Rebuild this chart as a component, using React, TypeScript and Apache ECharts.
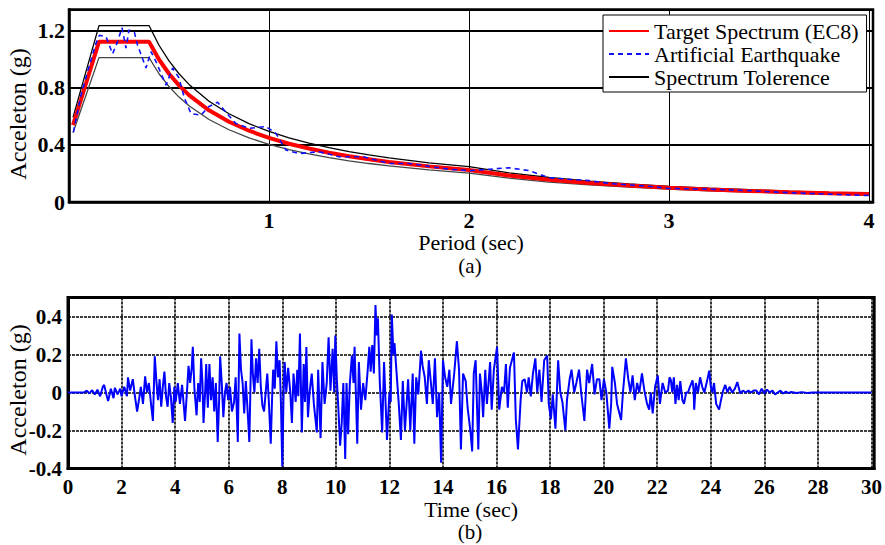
import React, { useEffect, useRef } from "react";
import * as echarts from "echarts";

const FONT = "Liberation Serif";

// ---- (a) Response spectra ----
const targetPeriods = [0.02, 0.15, 0.4, 0.45, 0.5, 0.55, 0.6, 0.7, 0.8, 0.9, 1.0, 1.1, 1.2, 1.3, 1.4, 1.5, 1.6, 1.8, 2.0, 2.2, 2.4, 2.6, 2.8, 3.0, 3.2, 3.4, 3.6, 3.8, 4.0];
const targetSa = [0.54, 1.125, 1.125, 1.0, 0.9, 0.818, 0.75, 0.643, 0.563, 0.5, 0.45, 0.409, 0.375, 0.346, 0.321, 0.3, 0.281, 0.25, 0.225, 0.186, 0.156, 0.133, 0.115, 0.1, 0.088, 0.078, 0.069, 0.062, 0.056];
const upperSa = [0.594, 1.238, 1.238, 1.1, 0.99, 0.9, 0.825, 0.707, 0.619, 0.55, 0.495, 0.45, 0.413, 0.381, 0.353, 0.33, 0.309, 0.275, 0.248, 0.205, 0.172, 0.146, 0.127, 0.11, 0.097, 0.086, 0.076, 0.068, 0.062];
const lowerSa = [0.486, 1.013, 1.013, 0.9, 0.81, 0.736, 0.675, 0.579, 0.507, 0.45, 0.405, 0.368, 0.338, 0.311, 0.289, 0.27, 0.253, 0.225, 0.203, 0.167, 0.14, 0.12, 0.104, 0.09, 0.079, 0.07, 0.062, 0.056, 0.05];

const artPeriods = [0.022, 0.06, 0.093, 0.135, 0.152, 0.185, 0.218, 0.243, 0.265, 0.285, 0.3, 0.327, 0.343, 0.385, 0.41, 0.435, 0.485, 0.518, 0.55, 0.577, 0.61, 0.66, 0.7, 0.743, 0.79, 0.835, 0.9, 0.985, 1.035, 1.085, 1.15, 1.25, 1.35, 1.47, 1.6, 1.7, 1.8, 1.9, 2.0, 2.1, 2.2, 2.3, 2.4, 2.5, 2.6, 2.7, 2.8, 2.9, 3.0, 3.2, 3.4, 3.6, 3.8, 4.0];
const artSa = [0.49, 0.75, 0.915, 1.114, 1.17, 1.16, 1.04, 1.125, 1.223, 1.08, 1.207, 1.19, 1.1, 0.94, 1.055, 0.985, 0.82, 0.94, 0.87, 0.73, 0.62, 0.61, 0.67, 0.7, 0.62, 0.55, 0.517, 0.53, 0.48, 0.365, 0.34, 0.353, 0.318, 0.318, 0.27, 0.27, 0.25, 0.23, 0.22, 0.23, 0.24, 0.22, 0.17, 0.16, 0.15, 0.13, 0.12, 0.11, 0.095, 0.09, 0.08, 0.065, 0.055, 0.045];

// ---- (b) Artificial accelerogram: [time (s), acceleration (g)] ----
const accelHistory: [number, number][] = [
  [0, 0], [0.6, 0], [0.7, 0.01], [0.8, -0.005], [0.9, 0.012], [1.0, -0.01], [1.1, 0.015], [1.2, -0.02], [1.3, 0.03], [1.35, 0.04], [1.45, -0.02], [1.5, -0.045], [1.6, 0.02], [1.7, -0.03], [1.75, 0.025], [1.85, -0.01], [1.95, 0.02], [2.0, -0.02],
  [2.1, 0.03], [2.2, -0.02], [2.24, 0.08], [2.32, 0.01], [2.42, 0.07], [2.5, -0.02], [2.58, -0.1], [2.66, -0.03], [2.72, 0.03], [2.8, -0.06], [2.88, 0.085], [2.95, 0.0], [3.02, 0.05], [3.1, -0.06], [3.17, -0.15], [3.24, 0.19], [3.3, 0.06], [3.36, -0.04], [3.42, 0.07], [3.48, -0.075], [3.54, 0.03], [3.6, 0.11], [3.66, -0.02], [3.72, -0.075], [3.78, 0.05], [3.84, -0.02], [3.91, -0.16], [3.97, 0.03], [4.02, -0.05],
  [4.1, 0.05], [4.18, -0.06], [4.26, 0.04], [4.37, -0.15], [4.44, 0.0], [4.5, 0.14], [4.56, 0.05], [4.62, 0.13], [4.66, 0.24], [4.72, 0.02], [4.8, -0.12], [4.86, 0.05], [4.92, -0.05], [4.97, 0.18], [5.02, 0.05], [5.06, -0.16], [5.12, 0.0], [5.16, 0.15], [5.22, -0.08], [5.28, 0.15], [5.34, -0.04], [5.4, 0.08], [5.46, -0.1], [5.52, 0.05], [5.59, -0.26], [5.64, -0.05], [5.68, 0.19], [5.74, 0.05], [5.8, -0.13], [5.86, 0.0], [5.92, 0.05], [5.98, -0.04],
  [6.05, 0.03], [6.12, -0.1], [6.2, -0.05], [6.26, 0.08], [6.34, -0.26], [6.4, 0.31], [6.46, 0.12], [6.52, 0.05], [6.58, -0.11], [6.64, 0.06], [6.7, -0.08], [6.77, -0.26], [6.85, 0.28], [6.9, 0.1], [6.96, 0.0], [7.02, 0.18], [7.08, 0.05], [7.14, 0.23], [7.2, 0.03], [7.26, -0.07], [7.32, -0.1], [7.38, 0.0], [7.44, 0.1], [7.5, -0.05], [7.57, -0.27], [7.62, -0.03], [7.66, 0.12], [7.72, 0.02], [7.78, 0.27], [7.84, 0.08], [7.9, 0.17], [7.95, -0.05], [8.0, -0.39],
  [8.05, 0.0], [8.09, 0.16], [8.15, 0.0], [8.22, 0.13], [8.3, 0.0], [8.36, -0.16], [8.42, 0.1], [8.5, -0.05], [8.56, 0.12], [8.6, -0.02], [8.66, 0.31], [8.73, -0.21], [8.8, 0.15], [8.85, -0.05], [8.9, 0.24], [8.96, -0.13], [9.02, 0.0], [9.1, 0.1], [9.18, -0.06], [9.29, -0.21], [9.34, 0.12], [9.43, -0.24], [9.5, 0.16], [9.58, -0.06], [9.66, 0.05], [9.73, 0.29], [9.8, 0.01], [9.88, 0.23], [9.94, 0.0], [9.98, 0.3],
  [10.04, 0.06], [10.1, -0.1], [10.16, -0.28], [10.22, -0.16], [10.28, 0.05], [10.35, -0.35], [10.4, 0.05], [10.46, -0.22], [10.52, 0.04], [10.6, 0.195], [10.66, 0.05], [10.7, 0.24], [10.8, -0.27], [10.86, 0.16], [10.94, -0.09], [11.02, 0.05], [11.1, -0.04], [11.18, 0.1], [11.25, 0.24], [11.3, 0.11], [11.36, 0.25], [11.42, 0.1], [11.48, 0.46], [11.53, 0.3], [11.57, 0.39], [11.64, 0.06], [11.73, -0.21], [11.8, 0.16], [11.91, -0.25], [12.0, 0.0],
  [12.05, -0.05], [12.09, 0.41], [12.15, 0.2], [12.19, 0.26], [12.26, 0.12], [12.35, -0.06], [12.43, -0.25], [12.5, 0.06], [12.58, -0.2], [12.7, 0.07], [12.78, -0.2], [12.87, 0.1], [12.93, -0.27], [13.0, 0.08], [13.08, -0.01], [13.18, 0.22], [13.24, 0.14], [13.32, 0.08], [13.4, -0.06], [13.47, 0.17], [13.55, 0.05], [13.62, -0.06], [13.7, 0.18], [13.78, -0.13], [13.86, 0.0], [13.93, -0.37],
  [14.0, 0.17], [14.08, 0.08], [14.16, 0.03], [14.24, 0.12], [14.3, -0.06], [14.42, 0.1], [14.52, 0.27], [14.6, 0.12], [14.67, -0.3], [14.75, 0.1], [14.85, 0.06], [14.92, -0.08],
  [15.03, -0.21], [15.09, -0.31], [15.15, 0.1], [15.22, 0.17], [15.32, -0.3], [15.38, 0.1], [15.45, 0.0], [15.5, -0.13], [15.58, 0.12], [15.64, -0.06], [15.76, 0.16], [15.82, -0.09], [15.9, 0.12],
  [16.02, 0.24], [16.1, -0.09], [16.2, 0.03], [16.28, 0.0], [16.35, 0.15], [16.42, -0.08], [16.5, 0.13], [16.65, 0.21], [16.72, -0.14], [16.8, -0.3], [16.9, -0.04], [16.96, 0.06],
  [17.05, 0.07], [17.14, 0.0], [17.2, 0.08], [17.28, -0.02], [17.36, 0.1], [17.45, 0.18], [17.52, 0.0], [17.6, 0.12], [17.68, -0.05], [17.78, 0.17], [17.89, 0.195], [17.95, -0.06],
  [18.03, -0.14], [18.1, -0.01], [18.2, -0.19], [18.3, 0.17], [18.38, 0.0], [18.46, -0.05], [18.57, -0.2], [18.63, -0.04], [18.73, 0.07], [18.8, 0.12], [18.9, 0.0], [18.98, 0.05],
  [19.08, 0.12], [19.16, 0.0], [19.28, -0.15], [19.38, 0.12], [19.46, 0.05], [19.57, 0.15], [19.66, -0.01], [19.75, 0.07], [19.84, 0.07], [19.92, -0.04],
  [20.01, 0.07], [20.1, 0.0], [20.21, -0.19], [20.28, -0.06], [20.32, 0.135], [20.42, 0.05], [20.5, -0.06], [20.65, -0.145], [20.72, 0.0], [20.83, 0.18], [20.92, 0.07],
  [21.0, 0.0], [21.08, 0.09], [21.16, -0.04], [21.25, 0.05], [21.33, 0.0], [21.43, 0.1], [21.52, 0.01], [21.62, -0.06], [21.7, -0.09], [21.76, 0.0], [21.83, -0.11], [21.92, 0.03],
  [22.02, 0.09], [22.1, -0.06], [22.2, 0.05], [22.3, 0.0], [22.4, 0.01], [22.46, 0.08], [22.51, 0.065], [22.56, 0.0], [22.62, 0.08], [22.68, -0.06], [22.74, 0.04], [22.8, -0.04], [22.86, 0.06], [22.94, -0.04],
  [23.0, -0.06], [23.08, 0.0], [23.15, 0.0], [23.22, 0.03], [23.32, 0.064], [23.36, 0.01], [23.38, -0.09], [23.44, 0.05], [23.52, 0.0], [23.6, 0.08], [23.68, 0.03], [23.76, 0.0], [23.86, 0.06], [23.94, 0.115],
  [24.0, 0.03], [24.06, 0.0], [24.12, 0.05], [24.2, -0.06], [24.31, -0.09], [24.38, -0.04], [24.46, 0.01], [24.54, 0.04], [24.62, 0.0], [24.7, 0.03], [24.8, 0.0], [24.9, 0.02], [24.99, 0.055],
  [25.1, -0.005], [25.2, 0.01], [25.3, 0.0], [25.4, 0.01], [25.5, 0.0], [25.6, 0.01], [25.7, 0.01], [25.8, -0.01], [25.9, 0.02], [26.0, -0.005], [26.1, 0.015], [26.2, 0.0], [26.3, 0.01], [26.4, -0.01], [26.5, 0.0], [26.6, 0.01], [26.7, -0.005], [26.8, 0.005], [26.9, -0.003],
  [27.0, 0.003], [27.2, -0.003], [27.4, 0.002], [27.6, -0.002], [27.8, 0.0], [30.0, 0.0],
];

const LEGEND_NAMES = ["Target Spectrum (EC8)", "Artificial Earthquake", "Spectrum Tolerence"];

const zip = (xs: number[], ys: number[]) => xs.map((x, i) => [x, ys[i]]);

function buildOption(): any {
  const topTick = { color: "#000", fontFamily: FONT, fontSize: 22, fontWeight: "bold" as const };
  const botTick = { color: "#000", fontFamily: FONT, fontSize: 21, fontWeight: "bold" as const };
  return {
    animation: false,
    backgroundColor: "#fff",
    textStyle: { fontFamily: FONT },
    grid: [
      { left: 69, top: 9.6, width: 804, height: 192.4, show: true, borderColor: "#000", borderWidth: 2.5, backgroundColor: "transparent" },
      { left: 68, top: 297.5, width: 808, height: 171, show: true, borderColor: "#000", borderWidth: 3, backgroundColor: "transparent" },
    ],
    legend: {
      data: LEGEND_NAMES,
      orient: "vertical",
      left: 603,
      top: 15,
      itemWidth: 40,
      itemHeight: 14,
      itemGap: 1,
      padding: [5, 8, 4, 5],
      borderColor: "#000",
      borderWidth: 1,
      borderRadius: 0,
      backgroundColor: "#fff",
      itemStyle: { opacity: 0 },
      textStyle: { color: "#000", fontFamily: FONT, fontSize: 22 },
    },
    xAxis: [
      {
        type: "value", gridIndex: 0, min: 0, max: 4.02, interval: 1,
        axisLine: { show: true, onZero: false, lineStyle: { color: "#000", width: 2.5 } },
        axisTick: { show: false },
        splitLine: { show: true, lineStyle: { color: "#000", width: 1 } },
        axisLabel: { ...topTick, margin: 7, formatter: (v: number) => (v > 0 && Math.abs(v - Math.round(v)) < 1e-6 ? String(Math.round(v)) : "") },
        name: "Period (sec)", nameLocation: "middle", nameGap: 23,
        nameTextStyle: { color: "#000", fontFamily: FONT, fontSize: 22 },
      },
      {
        type: "value", gridIndex: 1, min: 0, max: 30.1, interval: 2,
        axisLine: { show: true, onZero: false, lineStyle: { color: "#000", width: 3 } },
        axisTick: { show: false },
        splitLine: { show: true, lineStyle: { color: "#000", width: 1.6, type: [3, 1] } },
        axisLabel: { ...botTick, margin: 8, formatter: (v: number) => { const r = Math.round(v); return Math.abs(v - r) < 1e-6 && r % 2 === 0 ? String(r) : ""; } },
        name: "Time (sec)", nameLocation: "middle", nameGap: 26,
        nameTextStyle: { color: "#000", fontFamily: FONT, fontSize: 22 },
      },
    ],
    yAxis: [
      {
        type: "value", gridIndex: 0, min: 0, max: 1.35, interval: 0.4,
        axisLine: { show: true, lineStyle: { color: "#000", width: 2.5 } },
        axisTick: { show: false },
        splitLine: { show: true, lineStyle: { color: "#000", width: 1.8 } },
        axisLabel: { ...topTick, margin: 4, formatter: (v: number) => { const k = v / 0.4; if (Math.abs(k - Math.round(k)) > 1e-6) return ""; const r = Math.round(v * 10) / 10; return r === 0 ? "0" : r.toFixed(1); } },
      },
      {
        type: "value", gridIndex: 1, min: -0.4, max: 0.5, interval: 0.2,
        axisLine: { show: true, onZero: false, lineStyle: { color: "#000", width: 3 } },
        axisTick: { show: false },
        splitLine: { show: true, lineStyle: { color: "#000", width: 1.6, type: [3, 1] } },
        axisLabel: { ...botTick, margin: 6, formatter: (v: number) => { const r = Math.round(v * 10) / 10; if (r > 0.45) return ""; return r === 0 ? "0" : r.toFixed(1); } },
      },
    ],
    series: [
      {
        name: "Spectrum Tolerence", type: "line", xAxisIndex: 0, yAxisIndex: 0, symbol: "none",
        data: zip(targetPeriods, upperSa), lineStyle: { color: "#000", width: 1.3 }, itemStyle: { color: "#000" },
      },
      {
        name: "Spectrum Tolerence", type: "line", xAxisIndex: 0, yAxisIndex: 0, symbol: "none",
        data: zip(targetPeriods, lowerSa), lineStyle: { color: "#444", width: 1.3 }, itemStyle: { color: "#000" },
      },
      {
        name: "Target Spectrum (EC8)", type: "line", xAxisIndex: 0, yAxisIndex: 0, symbol: "none",
        data: zip(targetPeriods, targetSa), lineStyle: { color: "#ff0000", width: 4 }, itemStyle: { color: "#ff0000" },
      },
      {
        name: "Artificial Earthquake", type: "line", xAxisIndex: 0, yAxisIndex: 0, symbol: "none",
        data: zip(artPeriods, artSa), lineStyle: { color: "#1010ff", width: 1.6, type: [5, 4] }, itemStyle: { color: "#1010ff" },
      },
      {
        name: "Acceleration history", type: "line", xAxisIndex: 1, yAxisIndex: 1, symbol: "none",
        data: accelHistory, lineStyle: { color: "#0000ff", width: 2 }, itemStyle: { color: "#0000ff" },
      },
    ],
    graphic: [
      { type: "text", x: 18, y: 114, rotation: Math.PI / 2, style: { text: "Acceleton (g)", fill: "#000", fontFamily: FONT, fontSize: 24, align: "center", verticalAlign: "middle" } },
      { type: "text", x: 18, y: 390, rotation: Math.PI / 2, style: { text: "Acceleton (g)", fill: "#000", fontFamily: FONT, fontSize: 24, align: "center", verticalAlign: "middle" } },
      { type: "text", x: 470, y: 266, style: { text: "(a)", fill: "#000", fontFamily: FONT, fontSize: 21, align: "center", verticalAlign: "middle" } },
      { type: "text", x: 470, y: 532, style: { text: "(b)", fill: "#000", fontFamily: FONT, fontSize: 21, align: "center", verticalAlign: "middle" } },
    ],
  };
}

export default function App() {
  const ref = useRef<HTMLDivElement>(null);
  useEffect(() => {
    if (!ref.current) return;
    const chart = echarts.init(ref.current, null, { renderer: "svg" });
    chart.setOption(buildOption());
    return () => chart.dispose();
  }, []);
  return <div ref={ref} style={{ position: "absolute", left: 0, top: 0, width: 885, height: 545, background: "#fff" }} />;
}
